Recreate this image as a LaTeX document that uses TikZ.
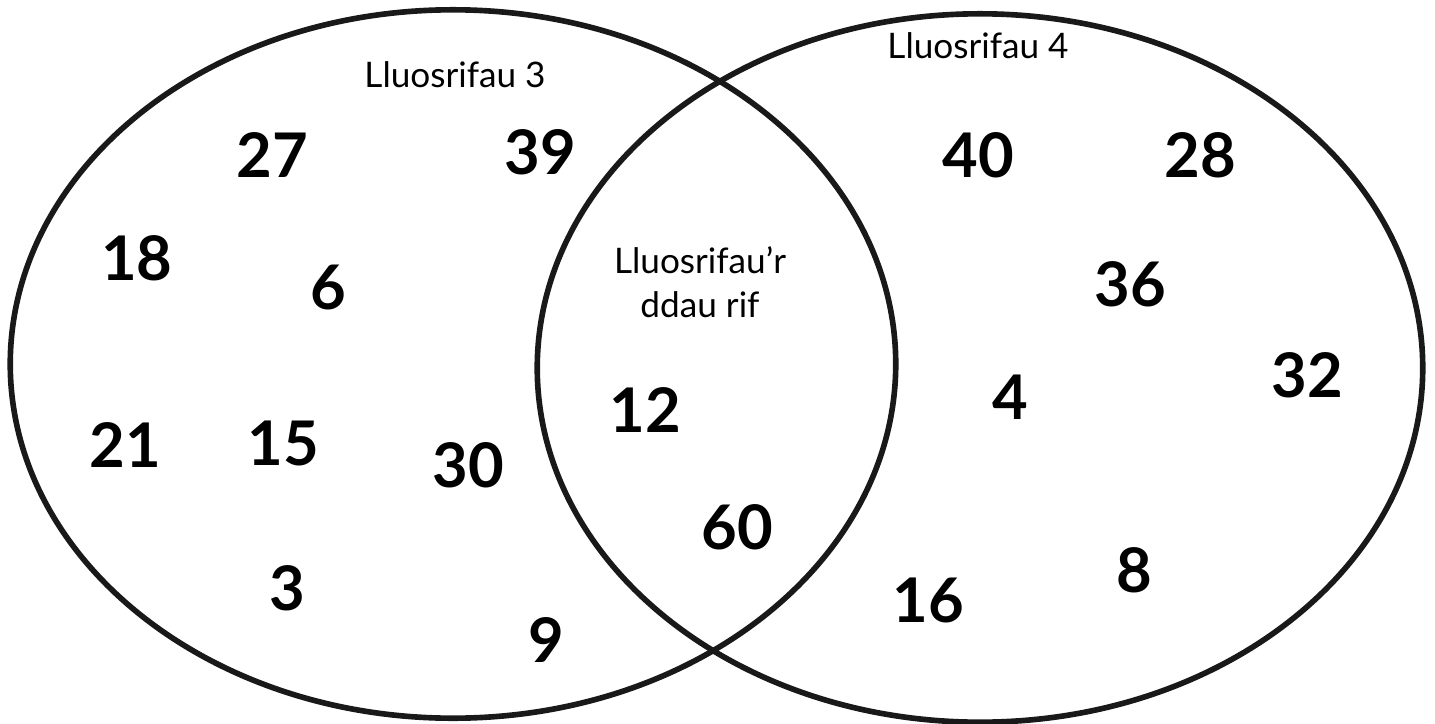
\documentclass[tikz,border=0pt]{standalone}
\usepackage{fontspec}
\setmainfont{Lato}
\usetikzlibrary{shapes.geometric}
\tikzset{
    setring/.style={ellipse, draw=black!90, line width=1.6pt, minimum width=8.85cm, minimum height=7.08cm, inner sep=0pt},
    numtxt/.style={font=\fontsize{17.5}{17.5}\selectfont\bfseries, inner sep=0pt},
    settxt/.style={font=\fontsize{10}{12.5}\selectfont, inner sep=0pt, align=center}
}
\begin{document}
\begin{tikzpicture}[x=0.01cm, y=-0.01cm]
            \useasboundingbox (0, 0) rectangle (1435, 724);
            %% Anchors
            \node[setring] (mthree) at (453, 364) {};
            \node[setring] (mfour) at (980, 368) {};
            %% Text Nodes
            \node[settxt] at (455, 75) (mthreetxt) {Lluosrifau 3};
            \node[settxt] at (978, 46) (mfourtxt) {Lluosrifau 4};
            \node[settxt] at (700, 282) (bothtxt) {Lluosrifau’r\\ddau rif};
            %% Multiples of 3
            \node[numtxt] at (272, 155) (n27) {27};
            \node[numtxt] at (540, 152) (n39) {39};
            \node[numtxt] at (137, 258) (n18) {18};
            \node[numtxt] at (328, 287) (n6) {6};
            \node[numtxt] at (125, 445) (n21) {21};
            \node[numtxt] at (283, 443) (n15) {15};
            \node[numtxt] at (468, 465) (n30) {30};
            \node[numtxt] at (287, 588) (n3) {3};
            \node[numtxt] at (546, 640) (n9) {9};
            %% Both
            \node[numtxt] at (645, 410) (n12) {12};
            \node[numtxt] at (737, 527) (n60) {60};
            %% Multiples of 4
            \node[numtxt] at (978, 155) (n40) {40};
            \node[numtxt] at (1200, 155) (n28) {28};
            \node[numtxt] at (1130, 284) (n36) {36};
            \node[numtxt] at (1307, 375) (n32) {32};
            \node[numtxt] at (1010, 397) (n4) {4};
            \node[numtxt] at (1134, 570) (n8) {8};
            \node[numtxt] at (928, 600) (n16) {16};
    \end{tikzpicture}
\end{document}
